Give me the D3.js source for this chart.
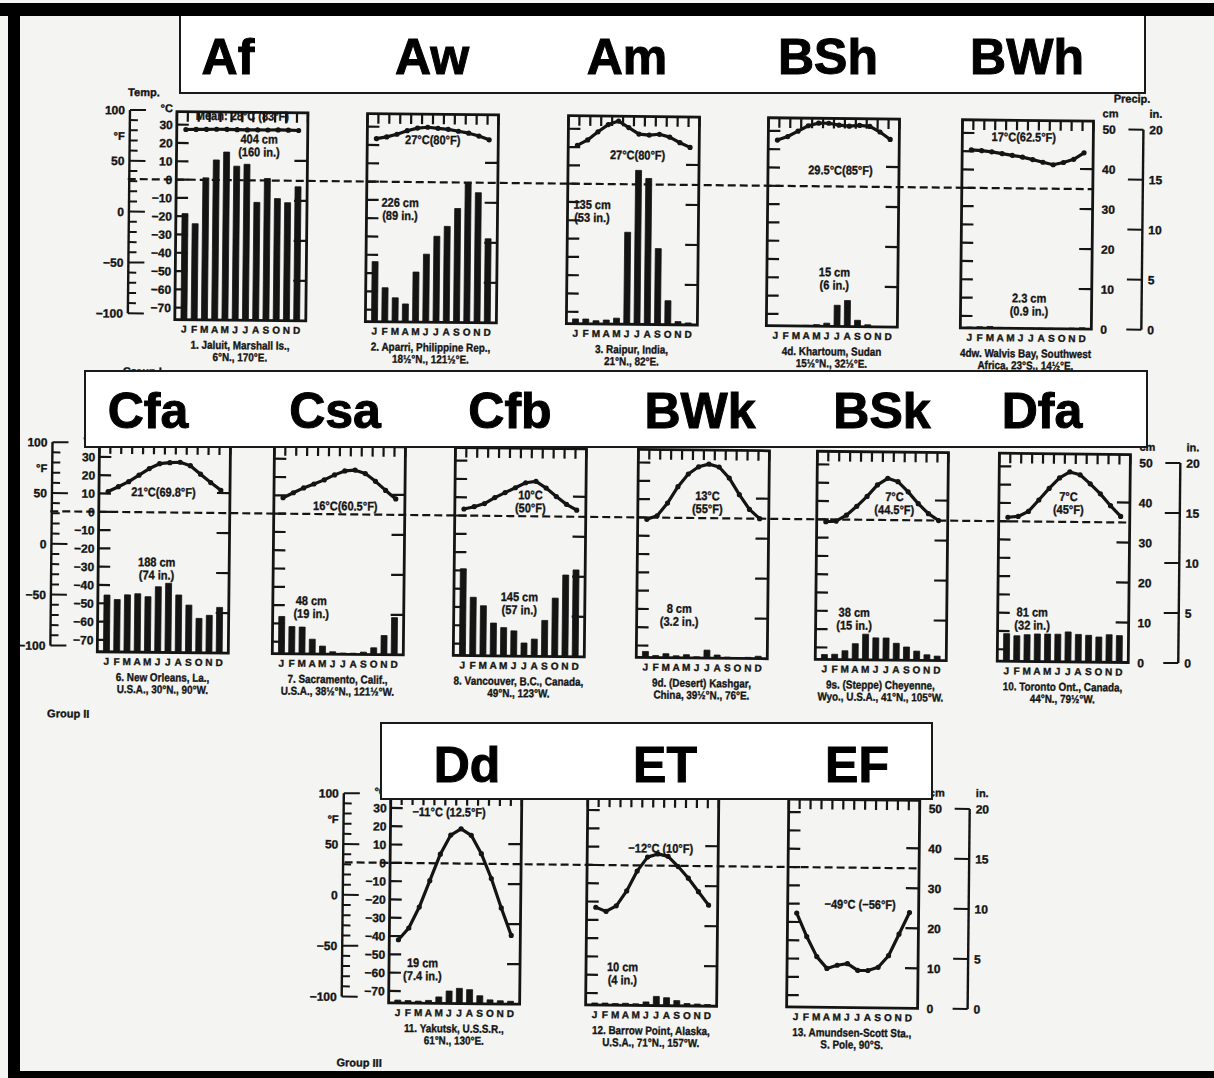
<!DOCTYPE html>
<html>
<head>
<meta charset="utf-8">
<title>Climographs</title>
<script src="https://cdn.jsdelivr.net/npm/d3@7"></script>
<style>
  html, body { margin: 0; padding: 0; background: #f4f4f2; }
  svg { display: block; }
  text { font-family: "Liberation Sans", Arial, Helvetica, sans-serif; font-weight: bold; fill: #141414; }
  g.fig text { stroke: #141414; stroke-width: 0.35px; }
  text.code { stroke: #000; stroke-width: 1px; }
</style>
</head>
<body>
<svg id="chart" width="1214" height="1078"></svg>
<script>
// ---------- data ----------
const months = ["J", "F", "M", "A", "M", "J", "J", "A", "S", "O", "N", "D"];
const climateCodes = ["Af", "Aw", "Am", "BSh", "BWh", "Cfa", "Csa", "Cfb", "BWk", "BSk", "Dfa", "Dd", "ET", "EF"];

const captionsTop = [
  "1. Jaluit, Marshall Is.,", "2. Aparri, Philippine Rep.,", "3. Raipur, India,",
  "4d. Khartoum, Sudan", "4dw. Walvis Bay, Southwest", "6. New Orleans, La.,",
  "7. Sacramento, Calif.,", "8. Vancouver, B.C., Canada,", "9d. (Desert) Kashgar,",
  "9s. (Steppe) Cheyenne,", "10. Toronto Ont., Canada,", "11. Yakutsk, U.S.S.R.,",
  "12. Barrow Point, Alaska,", "13. Amundsen-Scott Sta.,"
];
const captionsBottom = [
  "6°N., 170°E.", "18½°N., 121½°E.", "21°N., 82°E.", "15½°N., 32½°E.",
  "Africa, 23°S., 14½°E.", "U.S.A., 30°N., 90°W.", "U.S.A., 38½°N., 121½°W.",
  "49°N., 123°W.", "China, 39½°N., 76°E.", "Wyo., U.S.A., 41°N., 105°W.",
  "44°N., 79½°W.", "61°N., 130°E.", "U.S.A., 71°N., 157°W.", "S. Pole, 90°S."
];
const tempNotes = [
  ["Mean: 28°C (83°F)"], ["27°C(80°F)"], ["27°C(80°F)"], ["29.5°C(85°F)"], ["17°C(62.5°F)"],
  ["21°C(69.8°F)"], ["16°C(60.5°F)"], ["10°C", "(50°F)"], ["13°C", "(55°F)"],
  ["7°C", "(44.5°F)"], ["7°C", "(45°F)"], ["−11°C (12.5°F)"], ["−12°C (10°F)"], ["−49°C (−56°F)"]
];
const precipNotes = [
  ["404 cm", "(160 in.)"], ["226 cm", "(89 in.)"], ["135 cm", "(53 in.)"], ["15 cm", "(6 in.)"],
  ["2.3 cm", "(0.9 in.)"], ["188 cm", "(74 in.)"], ["48 cm", "(19 in.)"], ["145 cm", "(57 in.)"],
  ["8 cm", "(3.2 in.)"], ["38 cm", "(15 in.)"], ["81 cm", "(32 in.)"], ["19 cm", "(7.4 in.)"],
  ["10 cm", "(4 in.)"], []
];

// monthly mean temperature (°C) and precipitation (cm)
const tempJaluit = [27.4, 27.5, 27.6, 27.7, 27.7, 27.6, 27.5, 27.6, 27.6, 27.7, 27.6, 27.5];
const rainJaluit = [26.5, 24, 35.5, 40, 42, 38.5, 39, 29.5, 35.5, 30.5, 29.5, 33.5];
const tempAparri = [23.5, 24.5, 26, 28, 29.5, 30, 29.5, 29, 28, 27, 25.5, 23.5];
const rainAparri = [15, 8.5, 6, 4.5, 12.5, 17, 21.5, 24, 28.5, 35, 32.5, 21];
const tempRaipur = [21, 24, 28.5, 32.5, 34.5, 31, 27.5, 27, 27.5, 26, 23, 20.5];
const rainRaipur = [1.2, 1.2, 0.8, 1.0, 1.5, 23, 38.5, 36.5, 19, 6, 0.8, 0.5];
const tempKhartoum = [25, 27, 30, 33, 34.5, 34.5, 33.5, 33, 33.5, 33, 30, 26];
const rainKhartoum = [0, 0, 0, 0.2, 0.4, 0.8, 5.3, 6.5, 1.6, 0.5, 0, 0];
const tempWalvis = [20.8, 20.4, 19.8, 18.9, 18, 17.1, 15.8, 14.4, 13.1, 14.4, 16.2, 19.8];
const rainWalvis = [0.2, 0.3, 0.4, 0.2, 0.2, 0.1, 0.1, 0.1, 0.1, 0.1, 0.2, 0.3];
const tempNewOrleans = [11.1, 13.8, 16.6, 20.2, 23.9, 26.6, 27.2, 27.5, 25.7, 21.1, 16.6, 12.4];
const rainNewOrleans = [14.2, 13.1, 14.3, 14.6, 13.9, 16.4, 17.3, 14.4, 11.9, 8.6, 9.4, 11.4];
const tempSacramento = [8.7, 11.5, 14.2, 16.4, 18.7, 21.5, 23.7, 24.2, 22.4, 18.2, 13.3, 8.7];
const rainSacramento = [9.3, 6.8, 6.7, 3.7, 2.0, 0.6, 0.3, 0.3, 0.6, 1.7, 4.8, 9.3];
const tempVancouver = [3.6, 4.9, 6.7, 10, 12.8, 15.5, 18.3, 19.1, 15.5, 10.9, 6.7, 3.6];
const rainVancouver = [21.7, 14.6, 12.5, 8.2, 7.1, 6.3, 3.3, 4.3, 9.0, 14.6, 20.4, 21.7];
const tempKashgar = [-1, 1, 8, 17, 24, 28, 29.5, 28, 22, 13, 5, 0];
const rainKashgar = [1.5, 0.5, 1.0, 0.5, 0.8, 0.3, 2.0, 0.8, 0.3, 0.2, 0.3, 0.6];
const tempCheyenne = [-1.3, -0.9, 2.4, 7.3, 12.8, 19.1, 22.8, 21, 15.5, 9.1, 3.7, 0];
const rainCheyenne = [1.2, 1.3, 2.2, 4.0, 6.4, 5.5, 5.5, 4.2, 3.3, 2.3, 1.4, 1.1];
const tempToronto = [2.2, 2.7, 5.5, 11.8, 18.2, 24, 27.3, 25.8, 20.9, 15.5, 9.1, 3.3];
const rainToronto = [6.9, 6.4, 6.7, 6.9, 6.9, 6.9, 7.5, 6.9, 6.7, 6.3, 6.9, 6.7];
const tempYakutsk = [-42, -35.5, -24, -9.5, 5, 15.5, 19, 15.5, 5.5, -8, -24, -39];
const rainYakutsk = [0.7, 0.6, 0.5, 0.7, 1.6, 3.1, 3.8, 3.5, 2.0, 1.0, 0.8, 0.7];
const tempBarrow = [-23.1, -25.3, -22.2, -14, -3.1, 4.6, 6.4, 5.1, -0.4, -6.7, -14, -21.3];
const rainBarrow = [0.5, 0.5, 0.4, 0.5, 0.4, 0.9, 2.3, 2.0, 1.3, 0.6, 0.5, 0.4];
const tempSouthPole = [-25.1, -37.9, -48.8, -55.2, -53.4, -52.5, -56.1, -56.1, -54.3, -47.9, -36.1, -24.2];
const rainSouthPole = [0, 0, 0, 0, 0, 0, 0, 0, 0, 0, 0, 0];

const celsiusTicks = [30, 20, 10, 0, -10, -20, -30, -40, -50, -60, -70];
const fahrenheitLabels = [100, 50, 0, -50, -100];
const cmTicks = [0, 10, 20, 30, 40, 50];
const inchTicks = [0, 5, 10, 15, 20];

const temps = [tempJaluit, tempAparri, tempRaipur, tempKhartoum, tempWalvis, tempNewOrleans,
  tempSacramento, tempVancouver, tempKashgar, tempCheyenne, tempToronto, tempYakutsk, tempBarrow, tempSouthPole];
const rains = [rainJaluit, rainAparri, rainRaipur, rainKhartoum, rainWalvis, rainNewOrleans,
  rainSacramento, rainVancouver, rainKashgar, rainCheyenne, rainToronto, rainYakutsk, rainBarrow, rainSouthPole];

// ---------- layout ----------
const INK = "#141414";
const PW = 131, PH = 208;          // climograph frame
const ZERO_UP = 140;               // 0 °C sits this far above the frame floor
const PX_PER_C = 1.83, PX_PER_CM = 4, PX_PER_IN = 10;
const rowBottom = [324, 657, 1005];
const rowDashStart = [124, 50, 348];
const panelRow = [0, 0, 0, 0, 0, 1, 1, 1, 1, 1, 1, 2, 2, 2];
const panelCx = [238, 428.6, 629.6, 829.6, 1023.6, 164, 339, 520, 703, 882, 1064, 459, 656, 857];
const tempNotePos = [[0, -200], [0, -178], [4, -165], [7, -152], [-4, -187], [-1, -156], [6, -144],
  [10, -157], [4, -158], [12, -159], [4, -161], [-7, -187], [8, -153], [7, -99]];
const precipNotePos = [[17, -177], [-32, -115], [-41, -115], [2, -50], [3, -26], [-7, -86], [-27, -49],
  [0, -55], [-23, -45], [-27, -43], [-31, -45], [-32, -36], [-29, -34], [0, 0]];
const codeX = [228, 432, 627, 828, 1027, 148, 335, 510, 700, 882, 1042, 467, 665, 857];
const boxes = [
  { x: 180, y: 14, w: 965, h: 79, base: 74 },
  { x: 85, y: 371, w: 1062, h: 76, base: 428 },
  { x: 381, y: 723, w: 551, h: 76, base: 782 }
];

const svg = d3.select("#chart");
svg.append("rect").attr("width", 1214).attr("height", 1078).attr("fill", "#f4f4f2");

// the printed figure sits slightly askew on the page
const fig = svg.append("g").attr("class", "fig").attr("transform", "rotate(0.6,600,540)");

function condense(sel, k) {
  sel.each(function () {
    const len = this.getComputedTextLength();
    if (len > 0) d3.select(this).attr("textLength", len * k).attr("lengthAdjust", "spacingAndGlyphs");
  });
}

function scalesFor(i) {
  const bottom = rowBottom[panelRow[i]];
  const left = panelCx[i] - PW / 2;
  const zero = bottom - ZERO_UP;
  const x = d3.scaleBand().domain(d3.range(12)).range([left, left + PW]).paddingInner(0.42).paddingOuter(0.6);
  const yT = d3.scaleLinear().domain([0, 30]).range([zero, zero - 30 * PX_PER_C]);
  const yP = d3.scaleLinear().domain([0, 50]).range([bottom, bottom - 50 * PX_PER_CM]);
  const yIn = d3.scaleLinear().domain([0, 20]).range([bottom, bottom - 20 * PX_PER_IN]);
  const yF = d3.scaleLinear().domain([32, 212]).range([yT(0), yT(100)]);
  return { bottom, left, right: left + PW, top: bottom - PH, x, yT, yP, yIn, yF };
}

// dashed freezing line along each row
[0, 1, 2].forEach(r => {
  const idx = d3.range(14).filter(i => panelRow[i] === r);
  const last = scalesFor(idx[idx.length - 1]);
  const y0 = last.yT(0);
  fig.append("line").attr("x1", rowDashStart[r]).attr("x2", last.right)
    .attr("y1", y0).attr("y2", y0)
    .attr("stroke", INK).attr("stroke-width", 2.2).attr("stroke-dasharray", "8,4");
});

climateCodes.forEach((code, i) => {
  const s = scalesFor(i);
  const g = fig.append("g");

  // precipitation bars
  g.selectAll("rect.bar").data(rains[i]).join("rect").attr("class", "bar")
    .attr("x", (d, j) => s.x(j)).attr("width", s.x.bandwidth())
    .attr("y", d => s.yP(d)).attr("height", d => s.bottom - s.yP(d))
    .attr("fill", INK).attr("stroke", INK).attr("stroke-width", d => d > 0 ? 0.8 : 0);

  // frame
  g.append("rect").attr("x", s.left).attr("y", s.top).attr("width", PW).attr("height", PH)
    .attr("fill", "none").attr("stroke", INK).attr("stroke-width", 2.8);

  // month comb along the top edge
  g.selectAll("line.comb").data(d3.range(13)).join("line").attr("class", "comb")
    .attr("x1", k => s.left + k * PW / 12).attr("x2", k => s.left + k * PW / 12)
    .attr("y1", s.top).attr("y2", s.top + 10)
    .attr("stroke", INK).attr("stroke-width", 2.2);

  // inner temperature ticks (left) and precipitation ticks (right)
  g.selectAll("line.tt").data(celsiusTicks).join("line").attr("class", "tt")
    .attr("x1", s.left).attr("x2", s.left + 12).attr("y1", d => s.yT(d)).attr("y2", d => s.yT(d))
    .attr("stroke", INK).attr("stroke-width", 2.2);
  g.selectAll("line.pt").data(cmTicks.filter(c => c > 0 && c < 50)).join("line").attr("class", "pt")
    .attr("x1", s.right - 13).attr("x2", s.right).attr("y1", d => s.yP(d)).attr("y2", d => s.yP(d))
    .attr("stroke", INK).attr("stroke-width", 2.2);

  // temperature curve
  const cx = j => s.x(j) + s.x.bandwidth() / 2;
  g.append("path").datum(temps[i])
    .attr("d", d3.line().x((d, j) => cx(j)).y(d => s.yT(d)))
    .attr("fill", "none").attr("stroke", INK).attr("stroke-width", 3.2).attr("stroke-linejoin", "round");
  g.selectAll("circle.pt").data(temps[i]).join("circle").attr("class", "pt")
    .attr("cx", (d, j) => cx(j)).attr("cy", d => s.yT(d)).attr("r", 2.6).attr("fill", INK);

  // month initials
  g.selectAll("text.mon").data(months).join("text").attr("class", "mon")
    .attr("x", (d, j) => cx(j)).attr("y", s.bottom + 13)
    .attr("text-anchor", "middle").attr("font-size", 10).text(d => d);

  // station caption
  const cap = g.selectAll("text.cap").data([captionsTop[i], captionsBottom[i]]).join("text").attr("class", "cap")
    .attr("x", panelCx[i]).attr("y", (d, k) => s.bottom + 29 + k * 12)
    .attr("text-anchor", "middle").attr("font-size", 11.5).text(d => d);
  condense(cap, 0.86);

  // mean temperature note
  const tn = g.selectAll("text.tn").data(tempNotes[i]).join("text").attr("class", "tn")
    .attr("x", panelCx[i] + tempNotePos[i][0]).attr("y", (d, k) => s.bottom + tempNotePos[i][1] + k * 13)
    .attr("text-anchor", "middle").attr("font-size", 12.5).text(d => d);
  condense(tn, 0.88);

  // annual precipitation note
  const pn = g.selectAll("text.pn").data(precipNotes[i]).join("text").attr("class", "pn")
    .attr("x", panelCx[i] + precipNotePos[i][0]).attr("y", (d, k) => s.bottom + precipNotePos[i][1] + k * 13)
    .attr("text-anchor", "middle").attr("font-size", 12.5).text(d => d);
  condense(pn, 0.88);
});

// temperature scales at the start of each row
[0, 1, 2].forEach(r => {
  const first = d3.range(14).find(i => panelRow[i] === r);
  const s = scalesFor(first);
  const g = fig.append("g");
  const axX = s.left - 47;

  g.selectAll("text.c").data(celsiusTicks).join("text").attr("class", "c")
    .attr("x", s.left - 4).attr("y", d => s.yT(d) + 4.5)
    .attr("text-anchor", "end").attr("font-size", 12)
    .text(d => d < 0 ? "−" + Math.abs(d) : d);
  g.append("text").attr("x", s.left - 4).attr("y", s.yT(39) + 4).attr("text-anchor", "end")
    .attr("font-size", 11).text("°C");

  g.append("line").attr("x1", axX).attr("x2", axX)
    .attr("y1", s.yF(100)).attr("y2", s.yF(-100)).attr("stroke", INK).attr("stroke-width", 2.4);
  g.selectAll("line.f").data(d3.range(-100, 101, 10)).join("line").attr("class", "f")
    .attr("x1", axX).attr("x2", d => axX + (d % 50 === 0 ? 16 : 8))
    .attr("y1", d => s.yF(d)).attr("y2", d => s.yF(d))
    .attr("stroke", INK).attr("stroke-width", 2);
  g.selectAll("text.f").data(fahrenheitLabels).join("text").attr("class", "f")
    .attr("x", axX - 5).attr("y", d => s.yF(d) + 4.5)
    .attr("text-anchor", "end").attr("font-size", 12)
    .text(d => d < 0 ? "−" + Math.abs(d) : d);
  g.append("text").attr("x", axX - 5).attr("y", s.yF(75) + 4.5).attr("text-anchor", "end")
    .attr("font-size", 11).text("°F");
  if (r === 0) {
    g.append("text").attr("x", axX - 2).attr("y", s.yF(100) - 14).attr("font-size", 11).text("Temp.");
  }
});

// precipitation scales at the end of each row
[0, 1, 2].forEach(r => {
  const idx = d3.range(14).filter(i => panelRow[i] === r);
  const s = scalesFor(idx[idx.length - 1]);
  const g = fig.append("g");
  const inX = s.right + 50;

  g.selectAll("text.cm").data(cmTicks).join("text").attr("class", "cm")
    .attr("x", s.right + 9).attr("y", d => s.yP(d) + 4.5).attr("font-size", 12).text(d => d);
  g.append("text").attr("x", s.right + 9).attr("y", s.yP(50) - 12).attr("font-size", 11).text("cm");

  g.append("line").attr("x1", inX).attr("x2", inX)
    .attr("y1", s.yIn(20)).attr("y2", s.yIn(0)).attr("stroke", INK).attr("stroke-width", 2.4);
  g.selectAll("line.in").data(inchTicks).join("line").attr("class", "in")
    .attr("x1", inX - 15).attr("x2", inX).attr("y1", d => s.yIn(d)).attr("y2", d => s.yIn(d))
    .attr("stroke", INK).attr("stroke-width", 2);
  g.selectAll("text.in").data(inchTicks).join("text").attr("class", "in")
    .attr("x", inX + 6).attr("y", d => s.yIn(d) + 4.5).attr("font-size", 12).text(d => d);
  g.append("text").attr("x", inX + 6).attr("y", s.yIn(20) - 12).attr("font-size", 11).text("in.");
  if (r === 0) {
    g.append("text").attr("x", s.right + 20).attr("y", s.yP(50) - 27).attr("font-size", 11).text("Precip.");
  }
});

// group headings
fig.append("text").attr("x", 121).attr("y", 380).attr("font-size", 11).text("Group I");
fig.append("text").attr("x", 49).attr("y", 723).attr("font-size", 11).text("Group II");
fig.append("text").attr("x", 342).attr("y", 1069).attr("font-size", 11).text("Group III");

// Köppen code banners laid over the figure
boxes.forEach((b, r) => {
  svg.append("rect").attr("x", b.x).attr("y", b.y).attr("width", b.w).attr("height", b.h)
    .attr("fill", "#ffffff").attr("stroke", "#1a1a1a").attr("stroke-width", 2);
  const codes = climateCodes.map((c, i) => ({ c, i })).filter(d => panelRow[d.i] === r);
  svg.selectAll(null).data(codes).join("text").attr("class", "code")
    .attr("x", d => codeX[d.i]).attr("y", b.base)
    .attr("text-anchor", "middle").attr("font-size", 50)
    .style("fill", "#000").text(d => d.c);
});

// page frame
svg.append("rect").attr("x", 0).attr("y", 3).attr("width", 1214).attr("height", 13).attr("fill", "#000");
svg.append("rect").attr("x", 8).attr("y", 3).attr("width", 12).attr("height", 1075).attr("fill", "#000");
svg.append("rect").attr("x", 8).attr("y", 1071).attr("width", 1206).attr("height", 7).attr("fill", "#000");
</script>
</body>
</html>
